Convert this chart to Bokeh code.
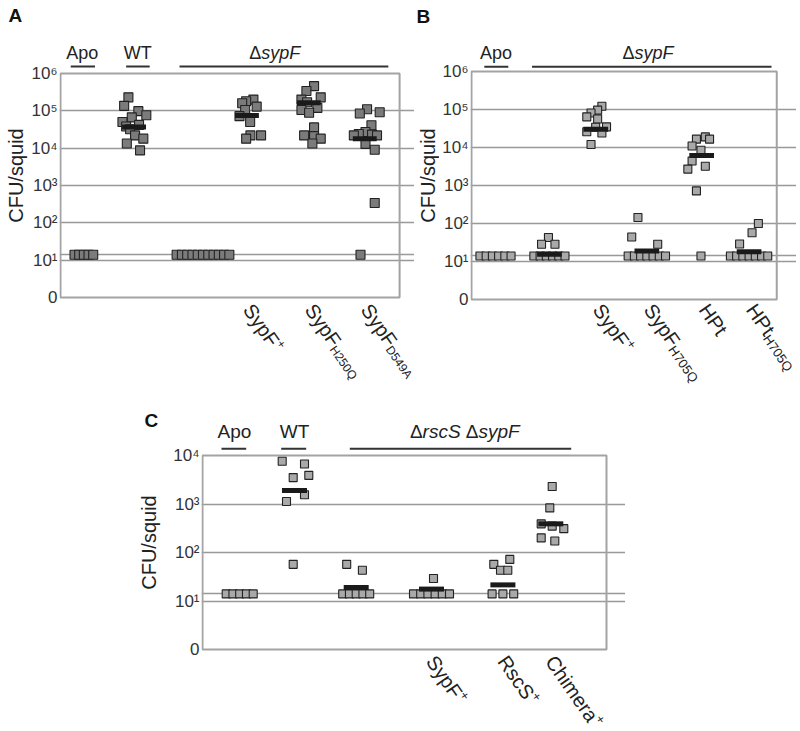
import math
from bokeh.plotting import figure
from bokeh.layouts import row, column, Spacer
from bokeh.models import Range1d, FixedTicker, Grid
from bokeh.embed import file_html
from bokeh.resources import INLINE
from bokeh.core.properties import value

FONT = "Liberation Sans"
LOD = 14  # limit of detection (CFU/squid)

# ---------------- Panel A ----------------
a_groups = ["Apo", "WT", "dsypF", "SypF+", "SypF H250Q", "SypF D549A"]
a_lod_n = [5, 0, 11, 0, 0, 1]
a_vals = [
    [],
    [2.3e5, 1.36e5, 9.8e4, 7.6e4, 6.7e4, 5.0e4, 4.2e4, 3.8e4, 3.2e4, 2.2e4, 1.8e4, 1.33e4, 8.7e3],
    [],
    [2.0e5, 1.8e5, 1.6e5, 1.3e5, 1.05e5, 7.2e4, 5.0e4, 2.2e4, 2.2e4, 1.8e4],
    [4.6e5, 3.4e5, 2.3e5, 2.0e5, 1.7e5, 1.2e5, 1.05e5, 8.9e4, 3.6e4, 2.2e4, 2.1e4, 1.8e4, 1.33e4],
    [1.1e5, 9.2e4, 8.5e4, 4.1e4, 2.7e4, 2.4e4, 2.3e4, 2.2e4, 2.2e4, 1.3e4, 9.1e3, 3.4e2],
]
a_jit = [
    [],
    [-5.7, -10, 4.3, 12.3, -2.3, -11.7, 5, -8, -4, 1, 9.3, -7.3, 6],
    [],
    [6.5, -0.8, -4.8, 9.8, -1.8, -7.5, 3.2, 3.5, 14.2, -0.8],
    [5.3, -2.4, 12, -7.4, -1.7, 8.6, -7.4, 0.3, 5.3, -4.7, 5.3, 12, 3.6],
    [2.3, 15, -5, 6.7, 0.7, -6, 7.3, -11, 12.3, 0.7, 10, 10],
]
a_medians = [None, 3.7e4, None, 7.5e4, 1.64e5, 1.8e4]

# ---------------- Panel B ----------------
b_groups = ["Apo", "dsypF", "SypF+", "SypF H705Q", "HPt", "HPt H705Q"]
b_lod_n = [6, 6, 0, 7, 1, 7]
b_vals = [
    [],
    [43, 28.5, 28.5],
    [1.22e5, 9.6e4, 8.1e4, 6.4e4, 5.6e4, 3.5e4, 3.4e4, 2.6e4, 2.4e4, 1.2e4],
    [144, 44, 28.5],
    [1.9e4, 1.66e4, 1.66e4, 1.1e4, 8.5e3, 4.4e3, 3.2e3, 2.7e3, 7.2e2],
    [100, 57, 29],
]
b_jit = [
    [],
    [-1, -8, 5.6],
    [6.2, 1.9, -4.8, -9.1, 1.9, 10.9, -0.1, -9.1, 6.2, -4.8],
    [-9, -15.3, 11],
    [3.7, 8, -5.3, -9.7, -0.7, -9.7, 3.7, -14, -5.3],
    [9.4, 3, -9.6],
]
b_medians = [None, 15.5, 3.0e4, 19, 6.2e3, 18]

# ---------------- Panel C ----------------
c_groups = ["Apo", "WT", "drscS dsypF", "SypF+", "RscS+", "Chimera+"]
c_lod_n = [5, 0, 5, 6, 3, 0]
c_vals = [
    [],
    [7.6e3, 6.7e3, 3.9e3, 3.5e3, 1.55e3, 1.13e3, 57],
    [57, 43],
    [29],
    [72, 57, 43, 43],
    [2.3e3, 8.3e2, 3.9e2, 3.5e2, 3.1e2, 2.0e2, 1.73e2],
]
c_jit = [
    [],
    [-12.3, 10, 14.3, -1.3, 10, -8, -1.3],
    [-9.5, 6.2],
    [2],
    [6.9, -9.1, -2.4, 4.9],
    [1.4, -1, -9.6, 1.4, 13, -9.6, 4],
]
c_medians = [None, 1.9e3, 19, 17.6, 21.5, 3.9e2]

SUP = {0: "0", 1: "10\u00b9", 2: "10\u00b2", 3: "10\u00b3", 4: "10\u2074", 5: "10\u2075", 6: "10\u2076"}

# approximate Arial / Liberation Sans advance widths (per 1000 em)
CW = {' ': 278, '\u0394': 668, 'A': 667, 'B': 667, 'C': 722, 'D': 722, 'F': 611, 'H': 722, 'P': 667,
      'Q': 778, 'R': 722, 'S': 667, 'T': 611, 'U': 722, 'W': 944, 'a': 556, 'c': 500, 'd': 556,
      'e': 556, 'h': 556, 'i': 222, 'm': 833, 'o': 556, 'p': 556, 'q': 556, 'r': 333, 's': 500,
      't': 278, 'u': 556, 'y': 500, '+': 584, '/': 278}


def tw(s, size):
    return sum(CW.get(ch, 556) for ch in s) * size / 1000.0


def label_fig(w, h, letter, lx, ly, yl_x, yl_y):
    f = figure(width=w, height=h, x_range=Range1d(0, w), y_range=Range1d(h, 0),
               toolbar_location=None, output_backend="svg", x_axis_location=None,
               y_axis_location=None, min_border=0, title=None)
    f.outline_line_color = None
    f.grid.visible = False
    f.text(x=[lx], y=[ly], text=[letter], text_font=value(FONT), text_font_size="19px",
           text_font_style="bold", text_baseline="middle", text_align="left", text_color="#111")
    f.text(x=[yl_x], y=[yl_y], text=["CFU/squid"], angle=math.pi / 2, text_font=value(FONT),
           text_font_size="20px", text_baseline="middle", text_align="center", text_color="#222")
    return f


def panel(geo, pos, lod_n, lod_step, lod_shift, vals, jit, medians, headers,
          fill, msize, bar_w, head_size):
    box_left, box_top, box_w, box_h, dec, fig_top, fig_bot, lb, rb, txt_up, line_up = geo
    d = box_h / dec
    y_end = 10 ** (dec + (box_top - fig_top) / d)
    y_start = 10 ** (-(fig_bot - (box_top + box_h)) / d)
    h = fig_bot - fig_top
    p = figure(width=lb + box_w + 2 + rb, height=h, x_range=Range1d(-1, box_w + 1 + rb),
               y_range=Range1d(y_start, y_end), y_axis_type="log", x_axis_location=None,
               toolbar_location=None, output_backend="svg", title=None,
               min_border_left=lb, min_border_right=0, min_border_top=0, min_border_bottom=0)
    p.outline_line_color = None
    p.xgrid.visible = False
    p.ygrid.ticker = FixedTicker(ticks=[10 ** k for k in range(1, dec)])
    p.ygrid.bounds = (0, box_w)
    p.ygrid.grid_line_color = "#999999"
    p.ygrid.grid_line_width = 1.3
    ax = p.yaxis[0]
    ax.ticker = FixedTicker(ticks=[10 ** k for k in range(0, dec + 1)])
    ax.major_label_overrides = {10 ** k: SUP[k] for k in range(0, dec + 1)}
    ax.axis_line_color = None
    ax.major_tick_line_color = None
    ax.minor_tick_line_color = None
    ax.major_tick_out = 0
    ax.major_tick_in = 0
    ax.minor_tick_out = 0
    ax.major_label_standoff = 2
    ax.major_label_text_font = FONT
    ax.major_label_text_font_size = "17px"
    ax.major_label_text_color = "#333333"

    # detection-limit line
    p.add_layout(Grid(dimension=1, ticker=FixedTicker(ticks=[LOD]), bounds=(0, box_w),
                      grid_line_color="#999999", grid_line_width=1.3))
    p.quad(left=[0], right=[box_w], bottom=[1], top=[10 ** dec], fill_color=None,
           line_color="#a3a3a3", line_width=2)

    xs, ys = [], []
    for i, c in enumerate(pos):
        n = lod_n[i]
        for k in range(n):
            xs.append(c + lod_shift[i] + (k - (n - 1) / 2.0) * lod_step[i])
            ys.append(LOD)
        for v, j in zip(vals[i], jit[i]):
            xs.append(c + j)
            ys.append(v)
    p.scatter(xs, ys, marker="square", size=msize, fill_color=fill, line_color="#222222",
              line_width=1.1)

    mx = [pos[i] for i, m in enumerate(medians) if m is not None]
    my = [m for m in medians if m is not None]
    p.rect(x=mx, y=my, width=bar_w, height=5, height_units="screen", fill_color="#1a1a1a",
           line_color=None)

    # group headers (anchor = middle of capitals)
    ty = 10 ** (dec + txt_up / d)
    ly = 10 ** (dec + line_up / d)
    for runs, cx, l0, l1 in headers:
        total = sum(tw(s, head_size) for s, _ in runs)
        x = cx - total / 2.0
        for s, style in runs:
            p.text(x=[x], y=[ty], text=[s], text_font=value(FONT), text_font_size=f"{head_size}px",
                   text_font_style=style, text_align="left", text_baseline="middle",
                   text_color="#222222")
            x += tw(s, head_size)
        p.segment(x0=[l0], y0=[ly], x1=[l1], y1=[ly], line_color="#333333", line_width=2)
    return p, d


def add_footers(p, d, pos, footers, dx, down, size, sub_size):
    a = math.radians(55)
    yf = 10 ** (-down / d)
    for gi, main, suf, kind in footers:
        x = pos[gi] + dx
        p.text(x=[x], y=[yf], text=[main], angle=-a, text_font=value(FONT),
               text_font_size=f"{size}px", text_align="left", text_baseline="middle",
               text_color="#222222")
        if suf:
            W = tw(main, size)
            s = 6 if kind == "sup" else -5
            xo = W * math.cos(a) + s * math.sin(a)
            yo = W * math.sin(a) - s * math.cos(a)
            p.text(x=[x], y=[yf], text=[suf], angle=-a, x_offset=xo, y_offset=yo,
                   text_font=value(FONT), text_font_size=f"{sub_size}px", text_align="left",
                   text_baseline="middle", text_color="#222222")


# group centres on each panel's x scale (box-left = 0, one unit per pixel)
a_pos = [23.5, 74, 143.3, 187.5, 249.7, 306]
b_pos = [24.3, 78.9, 125.8, 177.5, 233, 281]
c_pos = [37.2, 92, 153.7, 229, 300.4, 348.3]

a_headers = [([("Apo", "normal")], 21.7, 10.3, 34.7),
             ([("WT", "normal")], 77.5, 66, 89.7),
             ([("\u0394", "normal"), ("sypF", "italic")], 215.3, 119.7, 329.7)]
b_headers = [([("Apo", "normal")], 24.7, 13, 37.3),
             ([("\u0394", "normal"), ("sypF", "italic")], 178.5, 61.3, 303.7)]
c_headers = [([("Apo", "normal")], 32, 19, 43.7),
             ([("WT", "normal")], 92, 78.7, 103.7),
             ([("\u0394", "normal"), ("rscS", "italic"), (" ", "normal"), ("\u0394", "normal"),
               ("sypF", "italic")], 262.3, 147.3, 368.7)]

a_foot = [(3, "SypF", "+", "sup"), (4, "SypF", "H250Q", "sub"), (5, "SypF", "D549A", "sub")]
b_foot = [(2, "SypF", "+", "sup"), (3, "SypF", "H705Q", "sub"), (4, "HPt", "", None),
          (5, "HPt", "H705Q", "sub")]
c_foot = [(3, "SypF", "+", "sup"), (4, "RscS", "+", "sup"), (5, "Chimera", "+", "sup")]

# geometry (page pixels): box_left, box_top, box_w, box_h, decades, fig_top, fig_bottom,
#   left border, extra frame right of box, header text middle above box, header line above box
geoA = (58, 73, 341, 224, 6, 0, 405, 29, 14, 21.0, 7)
geoB = (467, 71, 309, 228, 6, 0, 405, 27, 19, 19.0, 4.7)
geoC = (202, 455, 404, 194, 4, 405, 729, 40, 18, 23.8, 6.7)

pA, dA = panel(geoA, a_pos, a_lod_n, [4.7, 0, 5.3, 0, 0, 0], [0, 0, 0, 0, 0, -4.3], a_vals,
               a_jit, a_medians, a_headers, "#7b7b7b", 9, 24, 18)
add_footers(pA, dA, a_pos, a_foot, 1, 8.5, 20, 12)
pB, dB = panel(geoB, b_pos, b_lod_n, [6.3] * 6, [0, 0, 0, 0, -0.7, 0], b_vals, b_jit,
               b_medians, b_headers, "#a9a9a9", 8, 25, 18)
add_footers(pB, dB, b_pos, b_foot, 2, 6.5, 20, 13)
pC, dC = panel(geoC, c_pos, c_lod_n, [6.75, 0, 6.75, 7.2, 10.8, 0], [0] * 6, c_vals, c_jit,
               c_medians, c_headers, "#a9a9a9", 8, 25, 19)
add_footers(pC, dC, c_pos, c_foot, -0.5, 8.2, 20, 13)

labA = label_fig(28, 405, "A", 8, 15.3, 15.2, 175)
labB = label_fig(25, 405, "B", 2, 16.0, 13.2, 175)
labC = label_fig(31, 324, "C", 14, 15.0, 18.0, 137)

layout = column(row(labA, pA, labB, pB), row(Spacer(width=130, height=324), labC, pC))

open("out.html", "w").write(file_html(layout, INLINE))
